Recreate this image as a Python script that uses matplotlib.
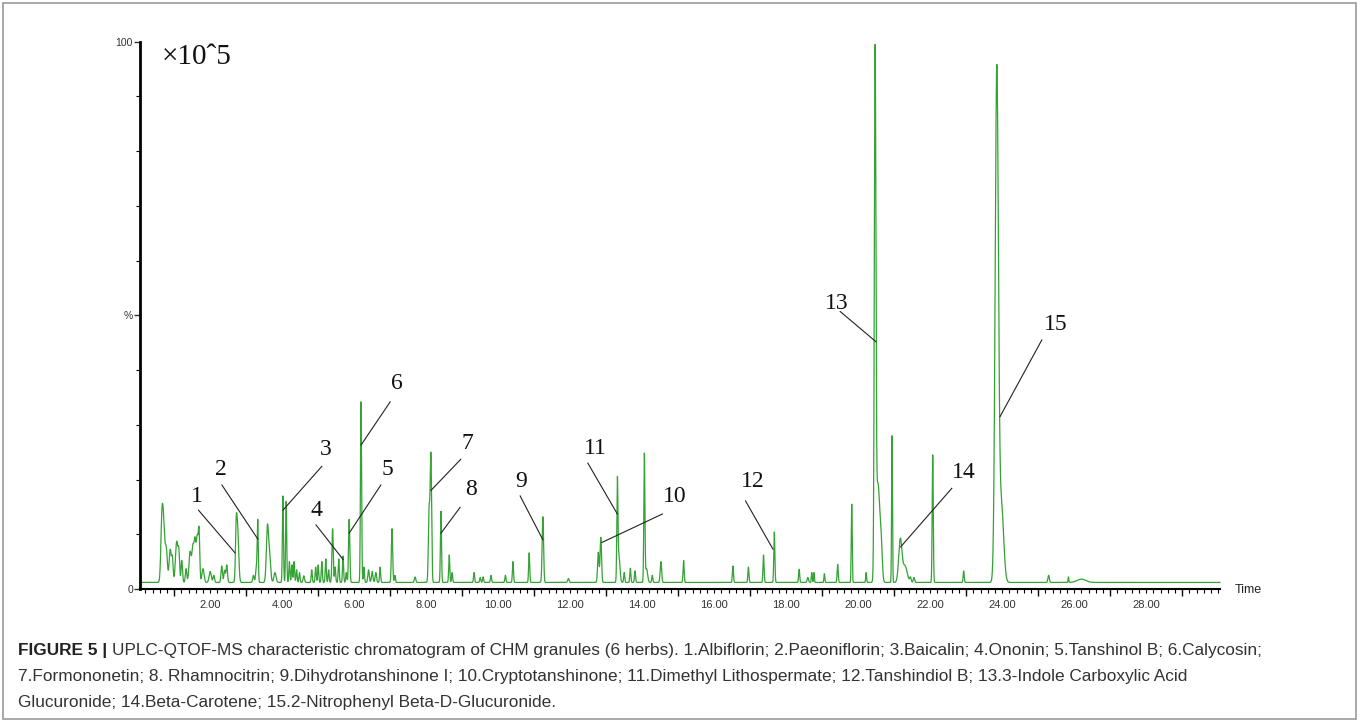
import numpy as np
import matplotlib

matplotlib.use("Agg")
import matplotlib.pyplot as plt
from matplotlib.patches import Rectangle
from matplotlib.ticker import FixedLocator, MultipleLocator, FuncFormatter, NullFormatter

plt.rcParams["font.family"] = ["Liberation Sans", "DejaVu Sans"]

# Peak table: retention time (min), height (% of base peak), width (sigma, min)
peak_rt = [
    0.66, 0.71, 0.78, 0.89, 0.95, 1.07, 1.13, 1.21, 1.33, 1.44, 1.52, 1.58, 1.64, 1.69, 1.80,
    2.00, 2.10, 2.32, 2.40, 2.46, 2.72, 2.76, 3.20, 3.28, 3.32, 3.59, 3.65, 3.80,
    4.02, 4.11, 4.20, 4.27, 4.33, 4.40, 4.48, 4.60, 4.82, 4.93, 5.00, 5.10, 5.21, 5.29,
    5.40, 5.47, 5.57, 5.69, 5.78, 5.86, 6.19, 6.27, 6.40, 6.50, 6.60, 6.72, 7.05, 7.13,
    7.69, 8.08, 8.13, 8.41, 8.64, 8.72, 9.33, 9.50, 9.58, 9.80, 10.20, 10.41, 10.86, 11.24,
    11.95, 12.78, 12.85, 13.31, 13.35, 13.50, 13.67, 13.80, 14.06, 14.12, 14.28, 14.52,
    15.15, 16.52, 16.95, 17.37, 17.67, 18.36, 18.60, 18.71, 18.77, 19.06, 19.43, 19.82,
    20.22, 20.47, 20.55, 20.64, 20.94, 21.17, 21.30, 21.45, 21.55, 22.07, 22.93,
    23.85, 23.98, 25.29, 25.84, 26.20,
]
peak_height = [
    11.5, 8.5, 6.0, 6.0, 4.0, 7.5, 4.5, 4.0, 2.5, 5.5, 6.5, 7.0, 8.0, 9.0, 2.5,
    2.0, 1.3, 3.0, 2.2, 3.2, 7.5, 10.0, 1.3, 2.5, 11.2, 10.0, 4.5, 1.8,
    15.8, 14.8, 3.8, 3.2, 3.8, 2.3, 1.8, 1.2, 2.3, 2.8, 3.2, 3.8, 4.3, 2.3,
    9.8, 2.8, 4.3, 4.8, 1.8, 11.5, 33.0, 2.8, 2.3, 2.0, 1.8, 2.8, 9.8, 1.3,
    1.0, 13.0, 23.2, 13.0, 5.0, 1.8, 1.8, 0.9, 1.0, 1.3, 1.3, 3.8, 5.4, 12.0,
    0.7, 5.5, 8.2, 17.3, 5.0, 1.8, 2.6, 2.1, 23.3, 2.5, 1.3, 3.8,
    4.0, 3.0, 2.8, 5.0, 9.2, 2.4, 0.9, 1.8, 1.8, 1.6, 3.3, 14.3,
    1.8, 93.3, 18.0, 5.5, 26.8, 7.8, 3.0, 0.9, 0.9, 23.3, 2.1,
    93.3, 14.0, 1.3, 1.0, 0.6,
]
peak_sigma = [
    0.030, 0.030, 0.030, 0.030, 0.020, 0.035, 0.020, 0.020, 0.020, 0.030, 0.030, 0.025, 0.025, 0.020, 0.030,
    0.030, 0.020, 0.020, 0.020, 0.020, 0.020, 0.030, 0.020, 0.020, 0.015, 0.030, 0.030, 0.030,
    0.015, 0.015, 0.015, 0.015, 0.015, 0.015, 0.015, 0.020, 0.015, 0.015, 0.015, 0.015, 0.015, 0.015,
    0.018, 0.015, 0.015, 0.015, 0.015, 0.018, 0.016, 0.015, 0.020, 0.020, 0.020, 0.015, 0.018, 0.015,
    0.020, 0.020, 0.020, 0.015, 0.015, 0.015, 0.015, 0.015, 0.015, 0.015, 0.015, 0.015, 0.015, 0.020,
    0.020, 0.020, 0.020, 0.015, 0.030, 0.015, 0.015, 0.015, 0.015, 0.030, 0.015, 0.020,
    0.015, 0.015, 0.015, 0.015, 0.015, 0.015, 0.020, 0.012, 0.012, 0.012, 0.015, 0.013,
    0.012, 0.022, 0.050, 0.030, 0.012, 0.045, 0.060, 0.020, 0.020, 0.015, 0.015,
    0.045, 0.060, 0.020, 0.010, 0.120,
]
baseline = 1.2

# Peak labels: number, text position, leader line start and end (data units)
label_text = ["1", "2", "3", "4", "5", "6", "7", "8", "9", "10", "11", "12", "13", "14", "15"]
label_xy = [
    (1.63, 16.9), (2.30, 21.8), (5.22, 25.4), (4.96, 14.4), (6.93, 21.8),
    (7.19, 37.6), (9.13, 26.6), (9.25, 18.1), (10.63, 19.6), (14.89, 16.9),
    (12.69, 25.7), (17.08, 19.6), (19.41, 52.2), (22.93, 21.2), (25.50, 48.4),
]
line_from = [
    (1.675, 14.4), (2.325, 19.0), (5.10, 22.4), (4.94, 11.7), (6.74, 19.0),
    (7.00, 34.2), (8.96, 23.7), (8.94, 14.9), (10.61, 17.0), (14.56, 13.7),
    (12.49, 23.0), (16.87, 16.1), (19.50, 50.7), (22.60, 18.4), (25.10, 45.5),
]
line_to = [
    (2.69, 6.6), (3.325, 9.1), (4.02, 14.4), (5.69, 5.4), (5.86, 10.2),
    (6.19, 26.3), (8.13, 18.0), (8.41, 10.2), (11.24, 9.0), (12.88, 8.5),
    (13.31, 13.7), (17.63, 7.3), (20.49, 45.2), (21.18, 7.7), (23.94, 31.5),
]

caption_lines = [
    "UPLC-QTOF-MS characteristic chromatogram of CHM granules (6 herbs). 1.Albiflorin; "
    "2.Paeoniflorin; 3.Baicalin; 4.Ononin; 5.Tanshinol B; 6.Calycosin;",
    "7.Formononetin; 8. Rhamnocitrin; 9.Dihydrotanshinone I; 10.Cryptotanshinone; "
    "11.Dimethyl Lithospermate; 12.Tanshindiol B; 13.3-Indole Carboxylic Acid",
    "Glucuronide; 14.Beta-Carotene; 15.2-Nitrophenyl Beta-D-Glucuronide.",
]

W, H = 1360, 722
fig = plt.figure(figsize=(W / 100, H / 100), dpi=100)
ax = fig.add_axes([140 / W, 1 - 589 / H, 1080 / W, (589 - 41.7) / H])

t = np.arange(0.05, 30.05, 0.002)
signal = np.full_like(t, baseline)
for rt, h, s in zip(peak_rt, peak_height, peak_sigma):
    signal += h * np.exp(-0.5 * ((t - rt) / s) ** 2)
ax.plot(t, signal, color="#34a234", lw=0.9, clip_on=False)

for txt, (tx, ty), (x0, y0), (x1, y1) in zip(label_text, label_xy, line_from, line_to):
    ax.plot([x0, x1], [y0, y1], color="#222222", lw=0.8)
    ax.text(tx, ty, txt, fontsize=17, family=["Liberation Serif", "DejaVu Serif"],
            ha="center", va="center", color="#111111")

ax.text(0.02, 0.972, "×10ˆ5", transform=ax.transAxes, fontsize=21,
        family=["Liberation Serif", "DejaVu Serif"], ha="left", va="center", color="#111111")

ax.set_xlim(0.05, 30.05)
ax.set_ylim(0, 100)
for side in ("top", "right"):
    ax.spines[side].set_visible(False)
ax.spines["left"].set_linewidth(2.0)
ax.spines["bottom"].set_linewidth(1.5)

ax.yaxis.set_major_locator(FixedLocator([0, 50, 100]))
ax.set_yticklabels(["0", "%", "100"])
ax.yaxis.set_minor_locator(MultipleLocator(10))
ax.tick_params(axis="y", which="major", length=4, width=1, labelsize=7.5, pad=1, colors="#333333")
ax.tick_params(axis="y", which="minor", length=3, width=0.8)

ax.xaxis.set_major_locator(FixedLocator(np.arange(1, 31, 2)))
ax.xaxis.set_major_formatter(NullFormatter())
ax.xaxis.set_minor_locator(MultipleLocator(0.2))


def xlabel(v, pos):
    n = round(v)
    if abs(v - n) < 1e-6 and n % 2 == 0 and 0 < n <= 28:
        return f"{v:.2f}"
    return ""


ax.xaxis.set_minor_formatter(FuncFormatter(xlabel))
ax.tick_params(axis="x", which="major", length=5, width=1)
ax.tick_params(axis="x", which="minor", length=3, width=0.8, labelsize=8, pad=5,
               labelcolor="#333333")

fig.text(1235 / W, 1 - 590 / H, "Time", fontsize=9, ha="left", va="center", color="#222222")

# caption
cap_size = 12.4
y_lines = [651, 677, 703]
bold = fig.text(18 / W, 1 - y_lines[0] / H, "FIGURE 5 | ", fontsize=cap_size, weight="bold",
                va="center", ha="left", color="#222222")
fig.canvas.draw()
bw = bold.get_window_extent(fig.canvas.get_renderer()).width
fig.text((18 + bw) / W, 1 - y_lines[0] / H, caption_lines[0], fontsize=cap_size,
         va="center", ha="left", color="#333333")
for yl, line in zip(y_lines[1:], caption_lines[1:]):
    fig.text(18 / W, 1 - yl / H, line, fontsize=cap_size, va="center", ha="left", color="#333333")

fig.patches.append(Rectangle((3 / W, 3 / H), 1353 / W, 716 / H, transform=fig.transFigure,
                             fill=False, edgecolor="#9a9a9a", lw=1.2))

fig.savefig("out.png", dpi=100)
